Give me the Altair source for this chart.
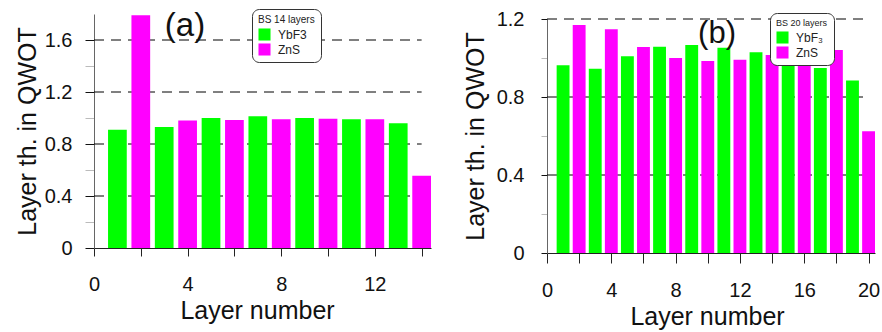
import altair as alt
import pandas as pd

FONT = "Liberation Sans"

# ---------------- data ----------------
layers_a = list(range(1, 15))
qwot_a = [0.91, 1.79, 0.93, 0.98, 1.00, 0.985, 1.013, 0.99, 1.00, 0.995, 0.99, 0.99, 0.96, 0.556]
mat_a = ["YbF3", "ZnS"] * 7

layers_b = list(range(1, 21))
qwot_b = [0.963, 1.169, 0.945, 1.147, 1.009, 1.056, 1.058, 1.00, 1.067, 0.985,
          1.053, 0.991, 1.029, 1.015, 0.99, 1.01, 0.949, 1.041, 0.884, 0.625]
mat_b = ["YbF₃", "ZnS"] * 10

yticks_a = [0, 0.2, 0.4, 0.6, 0.8, 1.0, 1.2, 1.4, 1.6]
yticks_b = [0, 0.2, 0.4, 0.6, 0.8, 1.0, 1.2]
grid_a = [0.4, 0.8, 1.2, 1.6]
grid_b = [0.4, 0.8, 1.2]
xticks_a = [0, 2, 4, 6, 8, 10, 12, 14]
xticks_b = [0, 2, 4, 6, 8, 10, 12, 14, 16, 18, 20]

tag_a = ["(a)"]
tag_b = ["(b)"]
legend_title_a = "BS 14 layers"
legend_title_b = "BS 20 layers"
colors = ["#00ff00", "#ff00ff"]

MAJOR = "abs(datum.value*2.5 - round(datum.value*2.5)) < 0.01"


def panel(layers, qwot, mats, xmax, ymax, yticks, xticks, grid, tag,
          width, height, yrange, ytick_size, ylab_pad, ytitle_x, ytitle_y,
          xtick_size, xlab_pad, xtitle_x, xtitle_y, leg_title, leg_x, leg_y,
          leg_title_size, leg_label_size, tag_x, tag_y, tag_size, phantom):
    df = pd.DataFrame({"layer": layers, "qwot": qwot, "material": mats})
    if yrange is not None:
        yscale = alt.Scale(domain=[0, ymax], nice=False, zero=True, range=yrange)
    else:
        yscale = alt.Scale(domain=[0, ymax], nice=False, zero=True)
    xscale = alt.Scale(domain=[0, xmax], nice=False, zero=False)

    yaxis = alt.Axis(
        title="Layer th. in QWOT", values=yticks,
        labelExpr=MAJOR + " ? format(datum.value, '.1~f') : ''",
        grid=False, domainColor="#666", domainWidth=1,
        tickSize=ytick_size, tickWidth=1,
        tickColor={"condition": {"test": MAJOR, "value": "#111"}, "value": "#bbb"},
        labelFont=FONT, labelFontSize=20, labelColor="#111", labelPadding=ylab_pad,
        titleFont=FONT, titleFontSize=25, titleFontWeight="normal", titleColor="#111",
        titleAngle=270, titleX=ytitle_x, titleY=ytitle_y,
        titleAlign="center", titleBaseline="middle",
    )
    xaxis = alt.Axis(
        title="Layer number", values=xticks,
        labelExpr="datum.value % 4 == 0 ? datum.label : ''",
        labelFlush=False, labelOverlap=False,
        grid=False, domainColor="#222", domainWidth=1,
        tickSize=xtick_size, tickColor="#222", tickWidth=1,
        labelFont=FONT, labelFontSize=20, labelColor="#111", labelPadding=xlab_pad,
        titleFont=FONT, titleFontSize=25, titleFontWeight="normal", titleColor="#111",
        titleX=xtitle_x, titleY=xtitle_y, titleAlign="center", titleBaseline="alphabetic",
    )

    gridlayer = alt.Chart(pd.DataFrame({"g": grid})).mark_rule(
        strokeDash=[10, 7], color="#000", strokeWidth=1
    ).encode(
        y=alt.Y("g:Q", scale=yscale, axis=yaxis),
        x=alt.datum(xticks[0], scale=xscale, axis=xaxis),
        x2=alt.datum(xticks[-1]),
    )

    bars = alt.Chart(df).transform_calculate(
        x0="datum.layer - 0.4", x1="datum.layer + 0.4"
    ).mark_bar(strokeWidth=0).encode(
        x=alt.X("x0:Q", scale=xscale, axis=xaxis),
        x2="x1:Q",
        y=alt.Y("qwot:Q", scale=yscale, axis=yaxis),
        y2=alt.datum(0),
        color=alt.Color(
            "material:N",
            scale=alt.Scale(domain=[mats[0], mats[1]], range=colors),
            legend=alt.Legend(
                title=leg_title, orient="none", legendX=leg_x, legendY=leg_y,
                symbolType="square", symbolSize=145, symbolStrokeWidth=0,
                fillColor="white", strokeColor="#333", cornerRadius=7, padding=6,
                titleFont=FONT, titleFontSize=leg_title_size, titleFontWeight="normal",
                titleColor="#222", titlePadding=3,
                labelFont=FONT, labelFontSize=leg_label_size, labelColor="#222",
                labelOffset=7, rowPadding=2,
            ),
        ),
    )

    tagtext = alt.Chart(pd.DataFrame({"t": tag})).mark_text(
        font=FONT, fontSize=tag_size, align="center", baseline="alphabetic", color="#111"
    ).encode(x=alt.value(tag_x), y=alt.value(tag_y), text="t:N")

    ph = alt.Chart(pd.DataFrame({"p": [0]})).mark_rule(strokeOpacity=0, strokeWidth=0.1).encode(
        x=alt.value(phantom[0]), x2=alt.value(phantom[0] + 1),
        y=alt.value(phantom[1]), y2=alt.value(phantom[1] + 1),
    )

    return alt.layer(gridlayer, bars, tagtext, ph).properties(width=width, height=height)


chart_a = panel(layers_a, qwot_a, mat_a, 14.4, 1.8, yticks_a, xticks_a, grid_a, tag_a,
                337, 234, None, 9, 13, -67, 117,
                8, 18, 163, 70, legend_title_a, 158, -5, 10, 12,
                91, 22, 33, (-94, -14))

chart_b = panel(layers_b, qwot_b, mat_b, 20.4, 1.2, yticks_b, xticks_b, grid_b, tag_b,
                328, 239, [239, 5], 6, 17, -72, 122,
                10, 17, 160, 71, legend_title_b, 223, -1, 9, 12,
                170, 29, 31, (334, 317))

chart = alt.hconcat(chart_a, chart_b, spacing=116, bounds="flush", padding=0).resolve_scale(
    x="independent", y="independent", color="independent"
).configure_view(stroke=None)

chart.save("out.html", embed_options={"renderer": "svg", "actions": False})
